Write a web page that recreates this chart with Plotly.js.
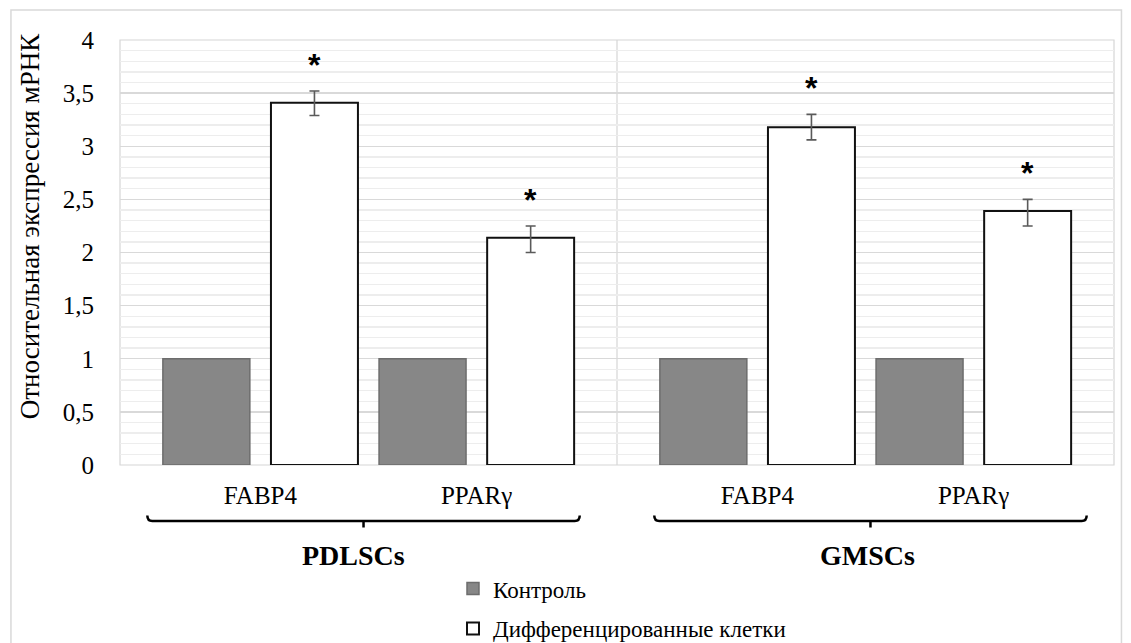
<!DOCTYPE html>
<html>
<head>
<meta charset="utf-8">
<script src="https://cdn.plot.ly/plotly-3.0.1.min.js"></script>
<style>html,body{margin:0;padding:0;background:#fff;}#chart{width:1131px;height:643px;}</style>
</head>
<body>
<div id="chart"></div>
<script>
// ---- data ----
const groups = ["PDLSCs", "GMSCs"];
const genes = ["FABP4", "PPARγ"];
const seriesNames = ["Контроль", "Дифференцированные клетки"];
const controlValues = [1, 1, 1, 1];
const diffValues = [3.41, 2.14, 3.18, 2.39];
const diffErrPlus = [0.11, 0.11, 0.12, 0.11];
const diffErrMinus = [0.12, 0.14, 0.12, 0.14];
const starLabels = ["*", "*", "*", "*"];

// ---- layout helpers ----
const SLOT = 0.435, BARW = 0.35;
function slotX(g, gene, s) { return g * 2 + 1 + (gene * 2 + s - 1.5) * SLOT; }
const ctrlX = [], diffX = [], tickX = [], tickT = [];
groups.forEach((g, gi) => genes.forEach((ge, ei) => {
  ctrlX.push(slotX(gi, ei, 0));
  diffX.push(slotX(gi, ei, 1));
  tickX.push(slotX(gi, ei, 0.5));
  tickT.push(ge);
}));

const serif = "Times New Roman, Liberation Serif, serif";
const sans = "Arial, Liberation Sans, sans-serif";

const traces = [
  {
    type: "bar", name: seriesNames[0], x: ctrlX, y: controlValues, width: BARW,
    marker: { color: "#878787", line: { color: "#6d6d6d", width: 1.5 } },
    legendgroup: "a", hoverinfo: "y"
  },
  {
    type: "bar", name: seriesNames[1], x: diffX, y: diffValues, width: BARW,
    marker: { color: "#ffffff", line: { color: "#111111", width: 2 } },
    error_y: { type: "data", array: diffErrPlus, arrayminus: diffErrMinus, visible: true,
               color: "#5a5a5a", thickness: 1.6, width: 5 },
    legendgroup: "b", hoverinfo: "y"
  }
];

const annotations = [];
diffX.forEach((x, i) => annotations.push({
  x: x, y: diffValues[i] + diffErrPlus[i], xref: "x", yref: "y",
  text: "<b>" + starLabels[i] + "</b>", showarrow: false, yanchor: "middle", yshift: 26,
  font: { family: sans, size: 32, color: "#000" }
}));
const groupShift = [-0.06, 0.01];
groups.forEach((g, gi) => annotations.push({
  x: gi * 2 + 1 + groupShift[gi], y: -0.214, xref: "x", yref: "paper", text: "<b>" + g + "</b>",
  showarrow: false, yanchor: "middle", font: { family: serif, size: 28, color: "#000" }
}));
annotations.push({
  x: -0.0905, y: 0.562, xref: "paper", yref: "paper", text: "Относительная экспрессия мРНК",
  textangle: -90, showarrow: false, xanchor: "center", yanchor: "middle",
  font: { family: serif, size: 27, color: "#000" }
});

const shapes = [
  { type: "rect", xref: "paper", yref: "paper", x0: -0.1097, x1: 1.0075, y0: -0.45, y1: 1.0706,
    line: { color: "#d9d9d9", width: 1.5 }, fillcolor: "rgba(0,0,0,0)", layer: "below" },
  { type: "rect", xref: "paper", yref: "paper", x0: 0, x1: 1, y0: 0, y1: 1,
    line: { color: "#d6d6d6", width: 1.2 }, fillcolor: "rgba(0,0,0,0)", layer: "below" },
  { type: "line", xref: "x", yref: "paper", x0: 2, x1: 2, y0: 0, y1: 1,
    line: { color: "#d6d6d6", width: 1.2 }, layer: "below" }
];
groups.forEach((g, gi) => {
  const c = gi * 2 + 1 + (gi === 0 ? -0.02 : 0.02), half = 0.87;
  const yb = -0.132, yu = -0.119, yd = -0.147;
  shapes.push({
    type: "path", xref: "x", yref: "paper",
    path: `M ${c - half},${yu} Q ${c - half},${yb} ${c - half + 0.02},${yb} L ${c + half - 0.02},${yb} Q ${c + half},${yb} ${c + half},${yu} M ${c},${yb} L ${c},${yd}`,
    line: { color: "#000", width: 2.5 }
  });
});

const layout = {
  width: 1131, height: 643,
  margin: { l: 120, r: 17, t: 40, b: 178, autoexpand: false },
  paper_bgcolor: "#fff", plot_bgcolor: "#fff",
  separators: ", ",
  barmode: "overlay",
  showlegend: true,
  font: { family: serif, color: "#000" },
  xaxis: {
    range: [0, 4], tickvals: tickX, ticktext: tickT, showgrid: false, zeroline: false,
    showline: false, ticks: "", ticklabelstandoff: 13, tickfont: { family: serif, size: 25, color: "#000" },
    fixedrange: true, automargin: false
  },
  yaxis: {
    range: [0, 4], dtick: 0.5, tick0: 0, showgrid: true, gridcolor: "#d9d9d9", gridwidth: 1.3,
    minor: { dtick: 0.1, tick0: 0, showgrid: true, gridcolor: "#ededed", gridwidth: 1.3 },
    zeroline: false, showline: false, ticks: "", ticklabelstandoff: 25,
    tickfont: { family: serif, size: 25, color: "#000" }, fixedrange: true, automargin: false
  },
  legend: {
    orientation: "v", x: 0.335, xanchor: "left", yref: "container", y: 0.118, yanchor: "top",
    font: { family: serif, size: 23, color: "#000" }, tracegroupgap: 7,
    bgcolor: "rgba(0,0,0,0)", itemwidth: 30, itemclick: false
  },
  annotations: annotations,
  shapes: shapes
};

Plotly.newPlot("chart", traces, layout, { displayModeBar: false, staticPlot: true });
</script>
</body>
</html>
